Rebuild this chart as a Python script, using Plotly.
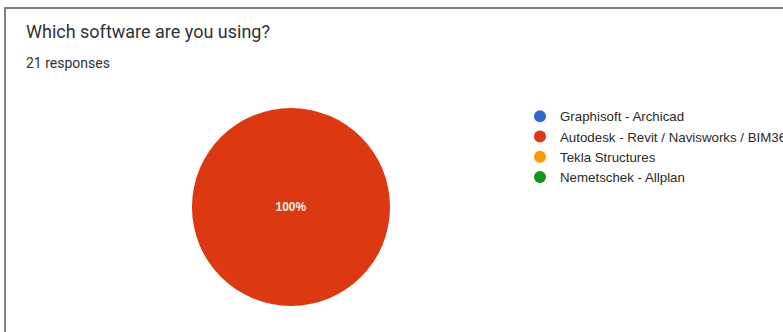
import plotly.graph_objects as go

categories = ["Graphisoft - Archicad", "Autodesk - Revit / Navisworks / BIM360", "Tekla Structures", "Nemetschek - Allplan"]
values = [0, 21, 0, 0]
colors = ["#3366cc", "#dc3912", "#ff9900", "#109618"]
title_text = "Which software are you using?"
subtitle_text = "21 responses"

W, H = 783, 332
total = sum(values)
slice_text = ["" if v == 0 else f"{v / total:.0%}" for v in values]

fig = go.Figure()

fig.add_trace(go.Pie(
    labels=categories, values=values, sort=False, direction="clockwise",
    marker=dict(colors=colors, line=dict(width=0)),
    text=slice_text, textinfo="text", textposition="inside",
    textfont=dict(color="#f6eee9", size=12, family="Arial, Liberation Sans", weight="bold"),
    showlegend=False,
    domain=dict(x=[192 / W, 390 / W], y=[(H - 306) / H, (H - 108) / H]),
))

for c, col in zip(categories, colors):
    fig.add_trace(go.Scatter(x=[None], y=[None], mode="markers", name=c,
                             marker=dict(color=col, size=12, symbol="circle")))

fig.update_layout(
    width=W, height=H, margin=dict(l=0, r=0, t=0, b=0, autoexpand=False),
    paper_bgcolor="white", plot_bgcolor="white",
    xaxis=dict(visible=False), yaxis=dict(visible=False),
    legend=dict(x=520 / W, y=1 - 101 / H, xanchor="left", yanchor="top",
                font=dict(family="Arial, Liberation Sans", size=13.3, color="#2a2a2a"),
                bgcolor="rgba(0,0,0,0)", itemwidth=30, tracegroupgap=0),
    annotations=[
        dict(text=title_text, x=24 / W, y=1 - 32 / H, xref="paper", yref="paper",
             xanchor="left", yanchor="middle", showarrow=False,
             font=dict(family="Roboto", size=18, color="#303134")),
        dict(text=subtitle_text, x=24 / W, y=1 - 63 / H, xref="paper", yref="paper",
             xanchor="left", yanchor="middle", showarrow=False,
             font=dict(family="Roboto", size=14, color="#303134")),
    ],
    shapes=[
        dict(type="rect", xref="paper", yref="paper", x0=5 / W, x1=1.05,
             y0=-0.05, y1=1 - 8 / H, line=dict(color="#808080", width=2)),
    ],
)

fig.write_html("out.html")
